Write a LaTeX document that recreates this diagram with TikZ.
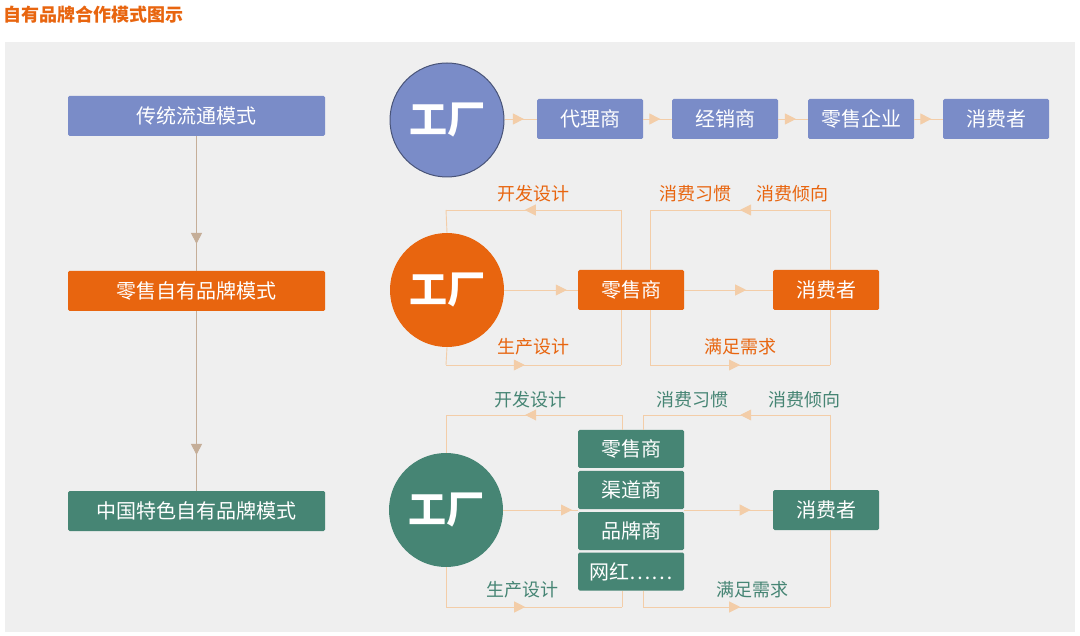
\documentclass[tikz,border=0pt]{standalone}
\usepackage{fontspec}
\setmainfont{Noto Sans CJK SC}
\usetikzlibrary{arrows.meta,decorations.markings}
\definecolor{cblue}{HTML}{7A8CC8}
\definecolor{corange}{HTML}{E8650F}
\definecolor{cgreen}{HTML}{468574}
\definecolor{cline}{HTML}{F3CDA8}
\definecolor{cpanel}{HTML}{EFEFEF}
\begin{document}
\begin{tikzpicture}[x=1pt,y=-1pt,
  box/.style={draw=none,rounded corners=1.5pt,minimum width=106pt,minimum height=40pt,inner sep=0pt,text=white,font=\fontsize{20}{24}\selectfont},
  lbox/.style={box,minimum width=257pt},
  sbox/.style={box,minimum height=38pt},
  fac/.style={circle,minimum size=114pt,inner sep=0pt,text=white,font=\fontsize{38}{44}\selectfont\bfseries},
  lab/.style={font=\fontsize{18}{22}\selectfont,inner sep=0pt},
  lp/.style={draw=cline,line width=0.9pt},
  ma/.style={lp,postaction={decorate},decoration={markings,mark=at position #1 with {\arrow{Triangle[length=11pt,width=11pt]}}}},
  ma/.default=0.5,
  tipc/.style={corange}]
\useasboundingbox (0,0) rectangle (1080,636);
\fill[white] (0,0) rectangle (1080,636);
\fill[cpanel] (5,42) rectangle (1075,632);
\node[anchor=west,text=corange,font=\fontsize{18}{22}\selectfont\bfseries,inner sep=0pt] (title) at (3,15) {自有品牌合作模式图示};
% left
\node[lbox,fill=cblue] (m1) at (196.5,116) {传统流通模式};
\node[lbox,fill=corange] (m2) at (196.5,291) {零售自有品牌模式};
\node[lbox,fill=cgreen] (m3) at (196.5,511) {中国特色自有品牌模式};
\draw[ma=0.8,draw=cline!70!gray,color=corange,draw=cline!60!gray] (m1) -- (m2);
\draw[ma=0.8,color=corange,draw=cline!60!gray] (m2) -- (m3);
% row1
\node[fac,fill=cblue,draw=cblue!60!black,line width=1pt] (f1) at (447,120) {工厂};
\node[box,fill=cblue] (r1a) at (590,119) {代理商};
\node[box,fill=cblue] (r1b) at (725,119) {经销商};
\node[box,fill=cblue] (r1c) at (861,119) {零售企业};
\node[box,fill=cblue] (r1d) at (996,119) {消费者};
\foreach \a/\b in {f1/r1a,r1a/r1b,r1b/r1c,r1c/r1d}
  \draw[ma=0.6,color=corange,draw=cline] (\a.east|-r1a) -- (\b);
% row2
\node[fac,fill=corange] (f2) at (447,290) {工厂};
\node[box,fill=corange] (r2a) at (631,290) {零售商};
\node[box,fill=corange] (r2b) at (826,290) {消费者};
\draw[ma=0.85,color=corange,draw=cline] (f2) -- (r2a);
\draw[ma=0.7,color=corange,draw=cline] (r2a) -- (r2b);
\coordinate (a1) at (446,210); \coordinate (a2) at (621,210);
\coordinate (a3) at (446,365); \coordinate (a4) at (621,365);
\coordinate (b1) at (650,210); \coordinate (b2) at (830,210);
\coordinate (b3) at (650,365); \coordinate (b4) at (830,365);
\draw[lp] (f2.north) -- (a1); \draw[lp] (a2) -- (a2|-r2a.north);
\draw[ma=0.55,color=corange,draw=cline] (a2) -- (a1);
\draw[lp] (f2.south) -- (a3); \draw[lp] (a4) -- (a4|-r2a.south);
\draw[ma=0.45,color=corange,draw=cline] (a3) -- (a4);
\draw[lp] (b1|-r2a.north) -- (b1); \draw[lp] (b2) -- (b2|-r2b.north);
\draw[ma=0.5,color=corange,draw=cline] (b2) -- (b1);
\draw[lp] (b3|-r2a.south) -- (b3); \draw[lp] (b4) -- (b4|-r2b.south);
\draw[ma=0.5,color=corange,draw=cline] (b3) -- (b4);
\node[lab,text=corange] (l1) at (533,194) {开发设计};
\node[lab,text=corange] (l2) at (533,347) {生产设计};
\node[lab,text=corange] (l3) at (695,194) {消费习惯};
\node[lab,text=corange] (l4) at (792,194) {消费倾向};
\node[lab,text=corange] (l5) at (740,347) {满足需求};
% row3
\node[fac,fill=cgreen] (f3) at (446,510) {工厂};
\node[sbox,fill=cgreen] (s1) at (631,449) {零售商};
\node[sbox,fill=cgreen] (s2) at (631,490) {渠道商};
\node[sbox,fill=cgreen] (s3) at (631,531) {品牌商};
\node[sbox,fill=cgreen] (s4) at (631,571.5) {网红……};
\node[box,fill=cgreen] (r3b) at (826,510) {消费者};
\coordinate (sl) at (578,510); \coordinate (sr) at (684,510);
\draw[ma=0.92,color=corange,draw=cline] (f3) -- (sl);
\draw[ma=0.75,color=corange,draw=cline] (sr) -- (r3b);
\coordinate (c1) at (446,415); \coordinate (c2) at (622,415);
\coordinate (c3) at (446,607); \coordinate (c4) at (622,607);
\coordinate (d1) at (643,415); \coordinate (d2) at (830,415);
\coordinate (d3) at (643,607); \coordinate (d4) at (830,607);
\draw[lp] (f3.north) -- (c1); \draw[lp] (c2) -- (c2|-s1.north);
\draw[ma=0.55,color=corange,draw=cline] (c2) -- (c1);
\draw[lp] (f3.south) -- (c3); \draw[lp] (c4) -- (c4|-s4.south);
\draw[ma=0.45,color=corange,draw=cline] (c3) -- (c4);
\draw[lp] (d1|-s1.north) -- (d1); \draw[lp] (d2) -- (d2|-r3b.north);
\draw[ma=0.48,color=corange,draw=cline] (d2) -- (d1);
\draw[lp] (d3|-s4.south) -- (d3); \draw[lp] (d4) -- (d4|-r3b.south);
\draw[ma=0.52,color=corange,draw=cline] (d3) -- (d4);
\node[lab,text=cgreen] (k1) at (530,400) {开发设计};
\node[lab,text=cgreen] (k2) at (522,590) {生产设计};
\node[lab,text=cgreen] (k3) at (692,400) {消费习惯};
\node[lab,text=cgreen] (k4) at (804,400) {消费倾向};
\node[lab,text=cgreen] (k5) at (752,590) {满足需求};
\end{tikzpicture}
\end{document}
